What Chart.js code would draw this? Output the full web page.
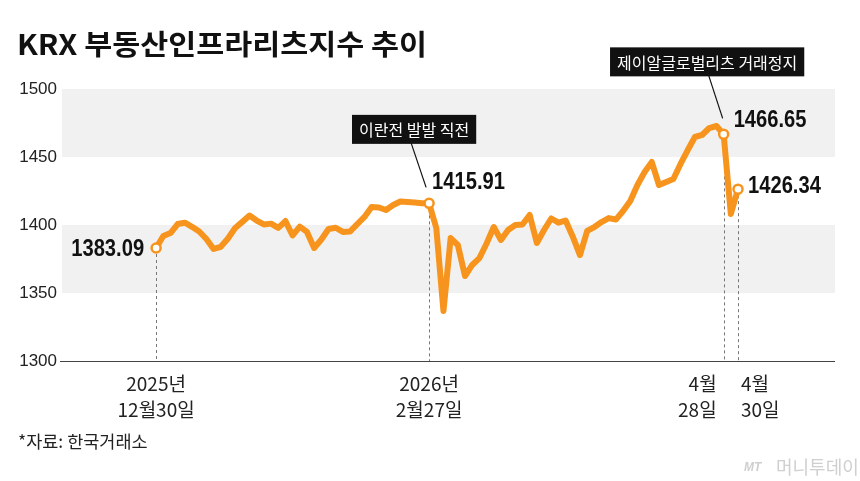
<!DOCTYPE html>
<html>
<head>
<meta charset="utf-8">
<script src="https://cdn.jsdelivr.net/npm/chart.js@4.4.1/dist/chart.umd.min.js"></script>
<style>
  html, body { margin: 0; padding: 0; background: #fff; }
  canvas { display: block; }
</style>
</head>
<body>
<canvas id="c" width="860" height="481"></canvas>
<script>
// ---- DATA ----
const dates = [
  "2025-12-30",
  "2026-01-02","2026-01-05","2026-01-06","2026-01-07","2026-01-08","2026-01-09","2026-01-12","2026-01-13","2026-01-14","2026-01-15",
  "2026-01-16","2026-01-19","2026-01-20","2026-01-21","2026-01-22","2026-01-23","2026-01-26","2026-01-27","2026-01-28","2026-01-29","2026-01-30",
  "2026-02-02","2026-02-03","2026-02-04","2026-02-05","2026-02-06","2026-02-09","2026-02-10","2026-02-11","2026-02-12","2026-02-13",
  "2026-02-19","2026-02-20","2026-02-23","2026-02-24","2026-02-25","2026-02-26","2026-02-27",
  "2026-03-03","2026-03-04","2026-03-05","2026-03-06","2026-03-09","2026-03-10","2026-03-11","2026-03-12","2026-03-13","2026-03-16","2026-03-17",
  "2026-03-18","2026-03-19","2026-03-20","2026-03-23","2026-03-24","2026-03-25","2026-03-26","2026-03-27","2026-03-30","2026-03-31",
  "2026-04-01","2026-04-02","2026-04-03","2026-04-06","2026-04-07","2026-04-08","2026-04-09","2026-04-10","2026-04-13","2026-04-14","2026-04-15",
  "2026-04-16","2026-04-17","2026-04-20","2026-04-21","2026-04-22","2026-04-23","2026-04-24","2026-04-27","2026-04-28","2026-04-29","2026-04-30"
];
const values = [
  1383.09,
  1391.9, 1394.1, 1400.7, 1401.7, 1398.7, 1395.2, 1389.7, 1382.4, 1384.0, 1390.1,
  1397.8, 1402.3, 1407.0, 1403.3, 1400.4, 1401.0, 1397.9, 1402.9, 1392.3, 1398.8, 1394.9,
  1383.1, 1389.3, 1397.1, 1398.0, 1394.9, 1395.2, 1400.7, 1405.9, 1413.2, 1412.9,
  1411.0, 1414.7, 1417.3, 1416.9, 1416.5, 1416.0, 1415.91,
  1397.8, 1336.8, 1390.4, 1385.3, 1362.5, 1370.6, 1375.7, 1386.4, 1398.5, 1389.0, 1396.3,
  1400.0, 1400.4, 1407.4, 1386.8, 1396.3, 1404.8, 1401.7, 1403.3, 1391.4, 1377.9,
  1395.6, 1398.5, 1402.2, 1405.1, 1404.0, 1410.3, 1417.6, 1429.4, 1439.0, 1446.3, 1429.4,
  1431.6, 1433.8, 1444.9, 1455.1, 1464.7, 1466.2, 1471.3, 1472.8, 1466.65, 1408.1, 1426.34
];
const yTicks = [1300, 1350, 1400, 1450, 1500];
const markedDates = ["2025-12-30", "2026-02-27", "2026-04-28", "2026-04-30"];
const markedValueLabels = ["1383.09", "1415.91", "1466.65", "1426.34"];
const xTickLabels = [["2025년", "12월30일"], ["2026년", "2월27일"], ["4월", "28일"], ["4월", "30일"]];
const calloutTexts = ["이란전 발발 직전", "제이알글로벌리츠 거래정지"];
const calloutDates = ["2026-02-27", "2026-04-28"];
const titleText = "KRX 부동산인프라리츠지수 추이";
const sourceText = "*자료: 한국거래소";

// ---- CHART ----
const ORANGE = "#F7941D";
const KR = '"Noto Sans CJK KR", "Noto Sans", sans-serif';
const markedIdx = markedDates.map(d => dates.indexOf(d));

function narrowText(ctx, text, x, y, align, sx) {
  ctx.save();
  ctx.translate(x, y);
  ctx.scale(sx, 1);
  ctx.textAlign = align;
  ctx.fillText(text, 0, 0);
  ctx.restore();
}

const decor = {
  id: "decor",
  beforeDraw(chart) {
    const { ctx, chartArea: a, scales: { y } } = chart;
    ctx.save();
    ctx.fillStyle = "#fff";
    ctx.fillRect(0, 0, chart.width, chart.height);
    ctx.fillStyle = "#f1f1f1";
    for (let k = yTicks.length - 1; k > 0; k -= 2) {
      const top = y.getPixelForValue(yTicks[k]);
      const bot = y.getPixelForValue(yTicks[k - 1]);
      ctx.fillRect(a.left, top, a.right - a.left, bot - top);
    }
    ctx.restore();
  },
  beforeDatasetsDraw(chart) {
    const { ctx, chartArea: a, scales: { x, y } } = chart;
    ctx.save();
    ctx.strokeStyle = "#777";
    ctx.lineWidth = 1;
    ctx.setLineDash([3, 3]);
    markedIdx.forEach(i => {
      const px = Math.round(x.getPixelForValue(i)) + 0.5;
      const py = y.getPixelForValue(values[i]);
      ctx.beginPath();
      ctx.moveTo(px, py + 6);
      ctx.lineTo(px, a.bottom);
      ctx.stroke();
    });
    ctx.setLineDash([]);
    ctx.strokeStyle = "#444";
    ctx.lineWidth = 1.2;
    ctx.beginPath();
    ctx.moveTo(a.left - 2, a.bottom + 0.5);
    ctx.lineTo(a.right, a.bottom + 0.5);
    ctx.stroke();
    ctx.restore();
  },
  afterDatasetsDraw(chart) {
    const { ctx, scales: { x, y } } = chart;
    ctx.save();
    const P = markedIdx.map(i => ({ x: x.getPixelForValue(i), y: y.getPixelForValue(values[i]) }));

    // value labels
    ctx.fillStyle = "#111";
    ctx.font = 'bold 24px "Liberation Sans", Arial, sans-serif';
    ctx.textBaseline = "middle";
    narrowText(ctx, markedValueLabels[0], P[0].x - 12, P[0].y + 1, "right", 0.84);
    narrowText(ctx, markedValueLabels[1], P[1].x + 3, P[1].y - 21, "left", 0.84);
    narrowText(ctx, markedValueLabels[2], P[2].x + 10, P[2].y - 14, "left", 0.84);
    narrowText(ctx, markedValueLabels[3], P[3].x + 10, P[3].y - 3, "left", 0.84);

    // callouts
    const co = [
      { i: markedDates.indexOf(calloutDates[0]), cx: -15, cy: -74, lx0: -18, lx1: -3, ly1: -16 },
      { i: markedDates.indexOf(calloutDates[1]), cx: -16.5, cy: -72.5, lx0: -15, lx1: -1, ly1: -16 }
    ];
    ctx.font = "16px " + KR;
    co.forEach((c, k) => {
      const p = P[c.i];
      const w = ctx.measureText(calloutTexts[k]).width + 14;
      const h = 29;
      const bx = p.x + c.cx - w / 2, by = p.y + c.cy - h / 2;
      ctx.strokeStyle = "#111";
      ctx.lineWidth = 1.2;
      ctx.beginPath();
      ctx.moveTo(p.x + c.lx0, by + h - 1);
      ctx.lineTo(p.x + c.lx1, p.y + c.ly1);
      ctx.stroke();
      ctx.fillStyle = "#111";
      ctx.fillRect(bx, by, w, h);
      ctx.fillStyle = "#fff";
      ctx.textAlign = "center";
      ctx.textBaseline = "middle";
      ctx.fillText(calloutTexts[k], bx + w / 2, by + h / 2 + 1);
    });

    // x labels
    ctx.fillStyle = "#222";
    ctx.font = "19px " + KR;
    ctx.textBaseline = "middle";
    const xl = [
      { align: "center", dx: 0 },
      { align: "center", dx: 0 },
      { align: "right", dx: -7 },
      { align: "left", dx: 3 }
    ];
    P.forEach((p, k) => {
      ctx.textAlign = xl[k].align;
      ctx.fillText(xTickLabels[k][0], p.x + xl[k].dx, 384);
      ctx.fillText(xTickLabels[k][1], p.x + xl[k].dx, 410);
    });

    // title (stretched to the reference width)
    ctx.fillStyle = "#111";
    ctx.font = "bold 28px " + KR;
    const tw = ctx.measureText(titleText).width;
    narrowText(ctx, titleText, 17, 44, "left", 410 / tw);

    // source
    ctx.textAlign = "left";
    ctx.font = "17.5px " + KR;
    ctx.fillStyle = "#222";
    ctx.fillText(sourceText, 18, 441);

    // watermark
    ctx.fillStyle = "#cfcfcf";
    ctx.font = 'italic bold 12px "Liberation Sans", Arial, sans-serif';
    ctx.fillText("MT", 744, 468);
    ctx.font = "18px " + KR;
    ctx.fillText("머니투데이", 776, 467);
    ctx.restore();
  }
};

new Chart(document.getElementById("c"), {
  type: "line",
  data: {
    labels: dates,
    datasets: [{
      data: values.map((v, i) => ({ x: i, y: v })),
      borderColor: ORANGE,
      borderWidth: 6,
      borderJoinStyle: "round",
      borderCapStyle: "round",
      tension: 0,
      fill: false,
      pointRadius: ctx => markedIdx.includes(ctx.dataIndex) ? 4.5 : 0,
      pointBackgroundColor: "#fff",
      pointBorderColor: ORANGE,
      pointBorderWidth: 2.5,
      clip: false
    }]
  },
  options: {
    responsive: false,
    animation: false,
    devicePixelRatio: 1,
    layout: { padding: { top: 89, right: 25, bottom: 120, left: 0 } },
    plugins: { legend: { display: false }, tooltip: { enabled: false } },
    scales: {
      x: {
        type: "linear",
        min: -13.1,
        max: 94.5,
        display: false
      },
      y: {
        min: yTicks[0],
        max: yTicks[yTicks.length - 1],
        afterBuildTicks: s => { s.ticks = yTicks.map(v => ({ value: v })); },
        afterFit: s => { s.width = 62; },
        grid: { display: false, drawTicks: false },
        border: { display: false },
        ticks: {
          color: "#222",
          padding: 5,
          callback: v => String(v),
          font: { family: '"Liberation Sans", Arial, sans-serif', size: 17 }
        }
      }
    }
  },
  plugins: [decor]
});
</script>
</body>
</html>
